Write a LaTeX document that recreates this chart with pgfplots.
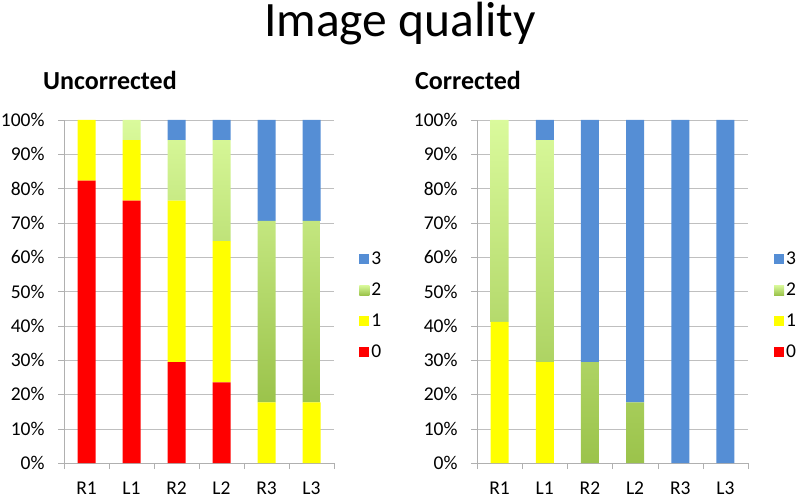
\documentclass[border=0pt]{standalone}
\usepackage{pgfplots}
\pgfplotsset{compat=1.18}
\usepackage{pgfplotstable}
\usepackage{fontspec}
\setmainfont{Carlito}
\definecolor{cRed}{HTML}{FF0000}
\definecolor{cYel}{HTML}{FFFF00}
\definecolor{cBlue}{HTML}{558ED5}
\definecolor{gTop}{HTML}{DAFA9C}
\definecolor{gBot}{HTML}{9BC34B}
\definecolor{axgray}{HTML}{B0B0B0}
\definecolor{gridgray}{HTML}{BFBFBF}

% percent of 17 raters: columns = score 0,1,2,3
\pgfplotstableread{
x  s0     s1     s2     s3
0  82.35  17.65  0      0
1  76.47  17.65  5.88   0
2  29.41  47.06  17.65  5.88
3  23.53  41.18  29.41  5.88
4  0      17.65  52.94  29.41
5  0      17.65  52.94  29.41
}\uncorr
\pgfplotstableread{
x  s0     s1     s2     s3
0  0      41.18  58.82  0
1  0      29.41  64.71  5.88
2  0      0      29.41  70.59
3  0      0      17.65  82.35
4  0      0      0      100
5  0      0      0      100
}\corr

\pgfplotsset{
  qchart/.style={
    scale only axis,
    height=343pt,
    ybar stacked,
    bar width=18pt,
    xmin=-0.5, xmax=5.5,
    ymin=0, ymax=100,
    axis x line*=bottom,
    axis y line*=left,
    axis line style={axgray},
    ymajorgrids,
    grid style={gridgray},
    tick align=outside,
    major tick length=6pt,
    tick style={axgray},
    xtick={-0.5,0.5,...,5.5},
    xticklabels={},
    extra x ticks={0,1,2,3,4,5},
    extra x tick labels={R1,L1,R2,L2,R3,L3},
    extra x tick style={major tick length=0pt, tick style={draw=none}},
    ytick={0,10,...,100},
    yticklabel={\pgfmathprintnumber{\tick}\%},
    /pgf/number format/assume math mode=true,
    tick label style={font=\fontsize{19.5}{22}\selectfont, black},
    xticklabel style={yshift=-15pt},
    yticklabel style={xshift=-10pt},
    legend style={draw=none, fill=none, anchor=west,
      font=\fontsize{19.5}{22}\selectfont, row sep=13pt,
      legend cell align=left},
    reverse legend,
    legend image code/.code={\path[#1, draw=none] (-3pt,-5pt) rectangle (7pt,5pt);},
  }
}

\begin{document}
\begin{tikzpicture}
\useasboundingbox (0pt,0pt) rectangle (797pt,498pt);
\node[anchor=base, inner sep=0pt, font=\fontsize{49.5}{58}\selectfont] at (400pt,461pt) {Image quality};
\node[anchor=base west, inner sep=0pt, font=\fontsize{26}{30}\selectfont\bfseries] at (43pt,408pt) {Uncorrected};
\node[anchor=base west, inner sep=0pt, font=\fontsize{26}{30}\selectfont\bfseries] at (415pt,408pt) {Corrected};

\begin{axis}[qchart, width=270pt, at={(64pt,35pt)}, anchor=south west,
  legend style={at={(1.082,0.459)}}]
  \addplot[fill=cRed, draw=none] table[x=x, y=s0] {\uncorr};
  \addlegendentry{0}
  \addplot[fill=cYel, draw=none] table[x=x, y=s1] {\uncorr};
  \addlegendentry{1}
  \addplot[top color=gTop, bottom color=gBot, draw=none] table[x=x, y=s2] {\uncorr};
  \addlegendentry{2}
  \addplot[fill=cBlue, draw=none] table[x=x, y=s3] {\uncorr};
  \addlegendentry{3}
\end{axis}

\begin{axis}[qchart, width=271pt, at={(477pt,35pt)}, anchor=south west,
  legend style={at={(1.085,0.459)}}]
  \addplot[fill=cRed, draw=none] table[x=x, y=s0] {\corr};
  \addlegendentry{0}
  \addplot[fill=cYel, draw=none] table[x=x, y=s1] {\corr};
  \addlegendentry{1}
  \addplot[top color=gTop, bottom color=gBot, draw=none] table[x=x, y=s2] {\corr};
  \addlegendentry{2}
  \addplot[fill=cBlue, draw=none] table[x=x, y=s3] {\corr};
  \addlegendentry{3}
\end{axis}
\end{tikzpicture}
\end{document}
